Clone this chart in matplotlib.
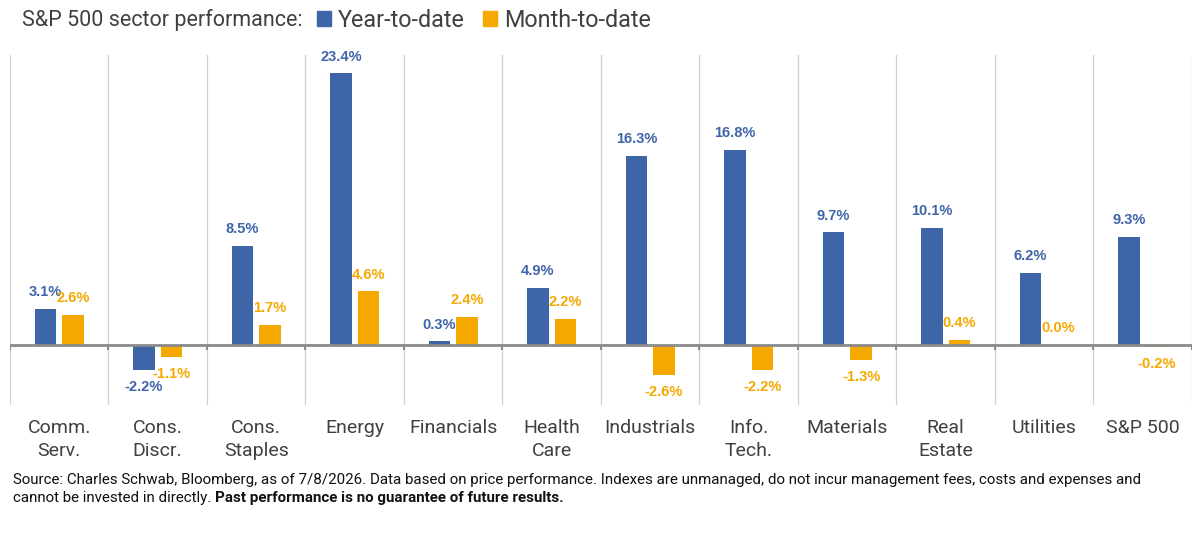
import matplotlib.pyplot as plt
import numpy as np
from matplotlib.patches import Patch

sectors = ["Comm.\nServ.", "Cons.\nDiscr.", "Cons.\nStaples", "Energy", "Financials",
           "Health\nCare", "Industrials", "Info.\nTech.", "Materials", "Real\nEstate",
           "Utilities", "S&P 500"]
ytd = [3.1, -2.2, 8.5, 23.4, 0.3, 4.9, 16.3, 16.8, 9.7, 10.1, 6.2, 9.3]
mtd = [2.6, -1.1, 1.7, 4.6, 2.4, 2.2, -2.6, -2.2, -1.3, 0.4, 0.0, -0.2]

blue = "#3F65A9"
orange = "#F5A800"
gray_txt = "#404040"

plt.rcParams["font.family"] = ["Roboto", "DejaVu Sans"]

fig = plt.figure(figsize=(12, 5.34), dpi=100)
ax = fig.add_axes([0.0083, 0.2416, 0.985, 0.6555])

x = np.arange(len(sectors))
w = 0.22
off = 0.14
b1 = ax.bar(x - off, ytd, w, color=blue, zorder=3)
b2 = ax.bar(x + off, mtd, w, color=orange, zorder=3)

lab_font = ["Liberation Sans", "DejaVu Sans"]
for bars, vals, c in [(b1, ytd, blue), (b2, mtd, orange)]:
    for b, v in zip(bars, vals):
        xc = b.get_x() + b.get_width() / 2
        if v >= 0:
            ax.annotate(f"{v:.1f}%", (xc, v), xytext=(0, 7), textcoords="offset points",
                        ha="center", va="bottom", color=c, fontsize=10.5,
                        fontweight="bold", family=lab_font)
        else:
            ax.annotate(f"{v:.1f}%", (xc, v), xytext=(0, -7), textcoords="offset points",
                        ha="center", va="top", color=c, fontsize=10.5,
                        fontweight="bold", family=lab_font)

ax.set_xlim(-0.5, len(sectors) - 0.5)
ax.set_ylim(-5.2, 25.0)

# vertical separators between categories
bounds = np.arange(len(sectors) + 1) - 0.5
for bx in bounds:
    ax.axvline(bx, color="#d0d0d0", lw=0.9, zorder=1)
ax.axhline(0, color="#8a8a8a", lw=2, zorder=4)
ax.vlines(bounds, -0.45, 0, color="#8a8a8a", lw=1.5, zorder=4)

ax.set_xticks(x)
ax.set_xticklabels(sectors, fontsize=14, color=gray_txt, linespacing=1.35)
ax.tick_params(axis="x", length=0, pad=10)
ax.set_yticks([])
for s in ax.spines.values():
    s.set_visible(False)

fig.text(0.018, 0.962, "S&P 500 sector performance:", fontsize=15.5, color=gray_txt,
         va="center", ha="left")
handles = [Patch(color=blue, label="Year-to-date"), Patch(color=orange, label="Month-to-date")]
leg = fig.legend(handles=handles, loc="center left", bbox_to_anchor=(0.264, 0.962), ncol=2,
                 frameon=False, fontsize=16.8, handlelength=0.6, handleheight=0.6,
                 handletextpad=0.3, columnspacing=0.8, borderaxespad=0, borderpad=0)
for t in leg.get_texts():
    t.set_color(gray_txt)

# footer: fit first line to the reference width
line1 = ("Source: Charles Schwab, Bloomberg, as of 7/8/2026. Data based on price performance. "
         "Indexes are unmanaged, do not incur management fees, costs and expenses and")
t0 = fig.text(0.011, 0.102, line1, fontsize=10, color="#111111", va="center")
fig.canvas.draw()
bb = t0.get_window_extent()
fs = 10 * 1134 / bb.width
t0.set_fontsize(fs)
t1 = fig.text(0.011, 0.068, "cannot be invested in directly. ", fontsize=fs,
              color="#111111", va="center")
fig.canvas.draw()
bb = t1.get_window_extent()
fig.text(bb.x1 / fig.bbox.width, 0.068, "Past performance is no guarantee of future results.",
         fontsize=fs, fontweight="bold", color="#111111", va="center")

fig.savefig("out.png", dpi=100)
